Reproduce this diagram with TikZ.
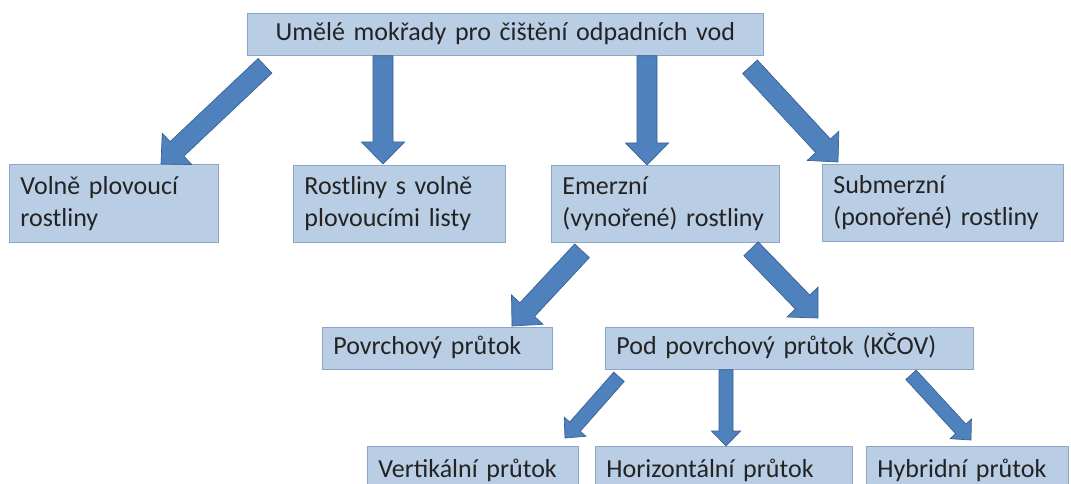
\documentclass[tikz,border=0pt]{standalone}
\usepackage{fontspec}
\setmainfont{Carlito}
\usetikzlibrary{calc}
\definecolor{boxfill}{RGB}{185,205,229}
\definecolor{boxline}{RGB}{140,165,200}
\definecolor{arrfill}{RGB}{79,129,189}
\definecolor{arrline}{RGB}{58,98,148}
\definecolor{txt}{RGB}{35,35,35}
\newcommand\diafont{\fontsize{26}{32}\selectfont}
\tikzset{
  box/.style={draw=boxline, fill=boxfill, line width=0.8pt, anchor=north west,
    inner xsep=11pt, inner ysep=0pt, align=left, font=\diafont, text=txt},
  oneline/.style={text height=19pt, text depth=6pt},
  blockarrow/.style n args={3}{draw=arrline, fill=arrfill, line width=0.7pt, line join=miter,
    to path={let \p1=(\tikztostart), \p2=(\tikztotarget),
      \n1={atan2(\y2-\y1,\x2-\x1)}, \n2={veclen(\x2-\x1,\y2-\y1)-#3} in
      ($(\p1)+(\n1+90:#1)$) -- ($(\p1)+(\n1:\n2)+(\n1+90:#1)$)
      -- ($(\p1)+(\n1:\n2)+(\n1+90:#2)$) -- (\p2)
      -- ($(\p1)+(\n1:\n2)+(\n1-90:#2)$) -- ($(\p1)+(\n1:\n2)+(\n1-90:#1)$)
      -- ($(\p1)+(\n1-90:#1)$) -- cycle}},
  bigarrow/.style={blockarrow={10pt}{21.5pt}{22}},
  smallarrow/.style={blockarrow={7pt}{14.5pt}{15}}
}
\begin{document}
\begin{tikzpicture}[x=1pt,y=-1pt]
\useasboundingbox (0,0) rectangle (1071,484);
\fill[white] (0,0) rectangle (1071,484);
\clip (0,0) rectangle (1071,484);

% boxes
\node[box, oneline, align=center, text width=494pt, minimum height=42pt] (top) at (247,13) {Umělé mokřady pro čištění odpadních vod};
\node[box, text width=187pt, minimum height=78pt] (volne) at (9,164) {Volně plovoucí\\rostliny};
\node[box, text width=190pt, minimum height=77pt] (rost) at (293,165) {Rostliny s volně\\plovoucími listy};
\node[box, text width=206pt, minimum height=77pt] (emer) at (551,165) {Emerzní\\(vynořené) rostliny};
\node[box, text width=219pt, minimum height=77pt] (subm) at (822,164) {Submerzní\\(ponořené) rostliny};
\node[box, oneline, text width=208pt, minimum height=42pt] (povr) at (322,327) {Povrchový průtok};
\node[box, oneline, text width=346pt, minimum height=42pt] (pod) at (605,327) {Pod povrchový průtok (KČOV)};
\node[box, oneline, text width=189pt, minimum height=49pt] (vert) at (367,446) {Vertikální průtok};
\node[box, oneline, text width=235pt, minimum height=49pt] (horiz) at (595,446) {Horizontální průtok};
\node[box, oneline, text width=180pt, minimum height=49pt] (hybr) at (866,446) {Hybridní průtok};

% arrow end points
\coordinate (s1) at ([shift={(18,10)}]top.south west);
\coordinate (e1) at ([shift={(152,0)}]volne.north west);
\coordinate (s2) at ([shift={(136,0)}]top.south west);
\coordinate (e2) at ([shift={(90,-1)}]rost.north west);
\coordinate (s3) at ([shift={(400,0)}]top.south west);
\coordinate (e3) at ([shift={(96,0)}]emer.north west);
\coordinate (s4) at ([shift={(503,11)}]top.south west);
\coordinate (e4) at ([shift={(16,-2)}]subm.north west);
\coordinate (s5) at ([shift={(31,8)}]emer.south west);
\coordinate (e5) at ([shift={(190,-1)}]povr.north west);
\coordinate (s6) at ([shift={(200,6)}]emer.south west);
\coordinate (e6) at ([shift={(213,-9)}]pod.north west);
\coordinate (s7) at ([shift={(14,7)}]pod.south west);
\coordinate (e7) at ([shift={(198,-8)}]vert.north west);
\coordinate (s8) at ([shift={(121,0)}]pod.south west);
\coordinate (e8) at ([shift={(131,0)}]horiz.north west);
\coordinate (s9) at ([shift={(306,5)}]pod.south west);
\coordinate (e9) at ([shift={(105,-6)}]hybr.north west);

% arrows
\draw[bigarrow] (s1) to (e1);
\draw[bigarrow] (s2) to (e2);
\draw[bigarrow] (s3) to (e3);
\draw[bigarrow] (s4) to (e4);
\draw[bigarrow] (s5) to (e5);
\draw[bigarrow] (s6) to (e6);
\draw[smallarrow] (s7) to (e7);
\draw[smallarrow] (s8) to (e8);
\draw[smallarrow] (s9) to (e9);
\end{tikzpicture}
\end{document}
